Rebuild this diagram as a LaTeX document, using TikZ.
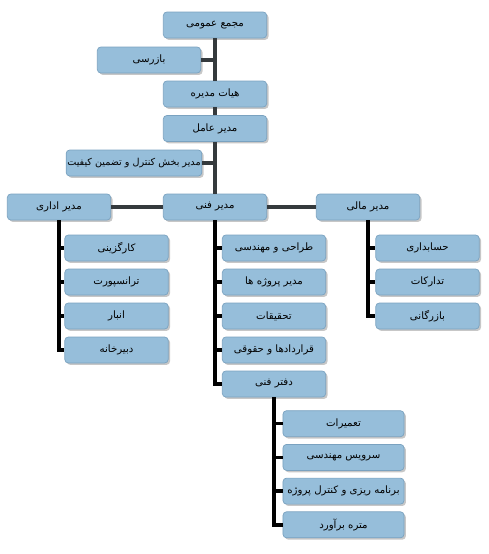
\documentclass[tikz,border=0pt]{standalone}
\usepackage{fontspec}
\usepackage{tikz}
\usetikzlibrary{shadows}
\TeXXeTstate=1
\newfontfamily\farsi[Script=Arabic]{DejaVu Sans}
\newcommand{\fa}[1]{{\farsi\beginR #1\endR}}
\definecolor{boxfill}{HTML}{96BEDA}
\definecolor{boxline}{HTML}{7AA2C0}
\definecolor{trunk}{HTML}{353A3D}

\tikzset{
  orgbox/.style={rounded corners=3pt,draw=boxline,fill=boxfill,line width=.6pt,
    minimum width=3.1cm,minimum height=.78cm,inner sep=1pt,
    font=\fontsize{8.7}{10}\selectfont,
    drop shadow={shadow xshift=1.6pt,shadow yshift=-1.6pt,fill=black!22,opacity=1}},
  mainline/.style={trunk,line width=3pt},
  childline/.style={black,line width=3pt}
}

\begin{document}
\begin{tikzpicture}[x=0.03cm,y=-0.03cm]
  \useasboundingbox (0,0) rectangle (489,554);
  % top of the chart
  \node[orgbox] (gm) at (215,25) {\fa{مجمع عمومی}};
  \node[orgbox] (insp) at (149,60) {\fa{بازرسی}};
  \node[orgbox] (board) at (215,94) {\fa{هیات مدیره}};
  \node[orgbox] (ceo) at (215,128.5) {\fa{مدیر عامل}};
  \node[orgbox,minimum width=4.02cm,font=\fontsize{8.2}{10}\selectfont] (qc) at (134,163) {\fa{مدیر بخش کنترل و تضمین کیفیت}};
  % managers
  \node[orgbox] (tech) at (215,207) {\fa{مدیر فنی}};
  \node[orgbox] (admin) at (59,207) {\fa{مدیر اداری}};
  \node[orgbox] (fin) at (368,207) {\fa{مدیر مالی}};
  \draw[mainline] (gm) -- (board);
  \draw[mainline] (board) -- (ceo);
  \draw[mainline] (ceo) -- (tech);
  \draw[mainline] (insp.east) -- (insp.east -| gm.south);
  \draw[mainline] (qc.east) -- (qc.east -| ceo.south);
  \draw[mainline] (admin) -- (tech);
  \draw[mainline] (tech) -- (fin);
  % units
  \foreach \t [count=\i] in {کارگزینی,ترانسپورت,انبار,دبیرخانه}{
    \node[orgbox] (a\i) at (116.5,214+34*\i) {\fa{\t}};
    \draw[childline] (admin.south) |- (a\i.west);
  }
  \foreach \t [count=\i] in {طراحی و مهندسی,مدیر پروژه ها,تحقیقات,قراردادها و حقوقی,دفتر فنی}{
    \node[orgbox] (t\i) at (274,214+34*\i) {\fa{\t}};
    \draw[childline] (tech.south) |- (t\i.west);
  }
  \foreach \t [count=\i] in {حسابداری,تدارکات,بازرگانی}{
    \node[orgbox] (f\i) at (427.5,214+34*\i) {\fa{\t}};
    \draw[childline] (fin.south) |- (f\i.west);
  }
  \foreach \t [count=\i] in {تعمیرات,سرویس مهندسی,برنامه ریزی و کنترل پروژه,متره برآورد}{
    \node[orgbox,minimum width=3.63cm] (d\i) at (343.5,390+33.7*\i) {\fa{\t}};
    \draw[childline] (t5.south) |- (d\i.west);
  }
\end{tikzpicture}
\end{document}
